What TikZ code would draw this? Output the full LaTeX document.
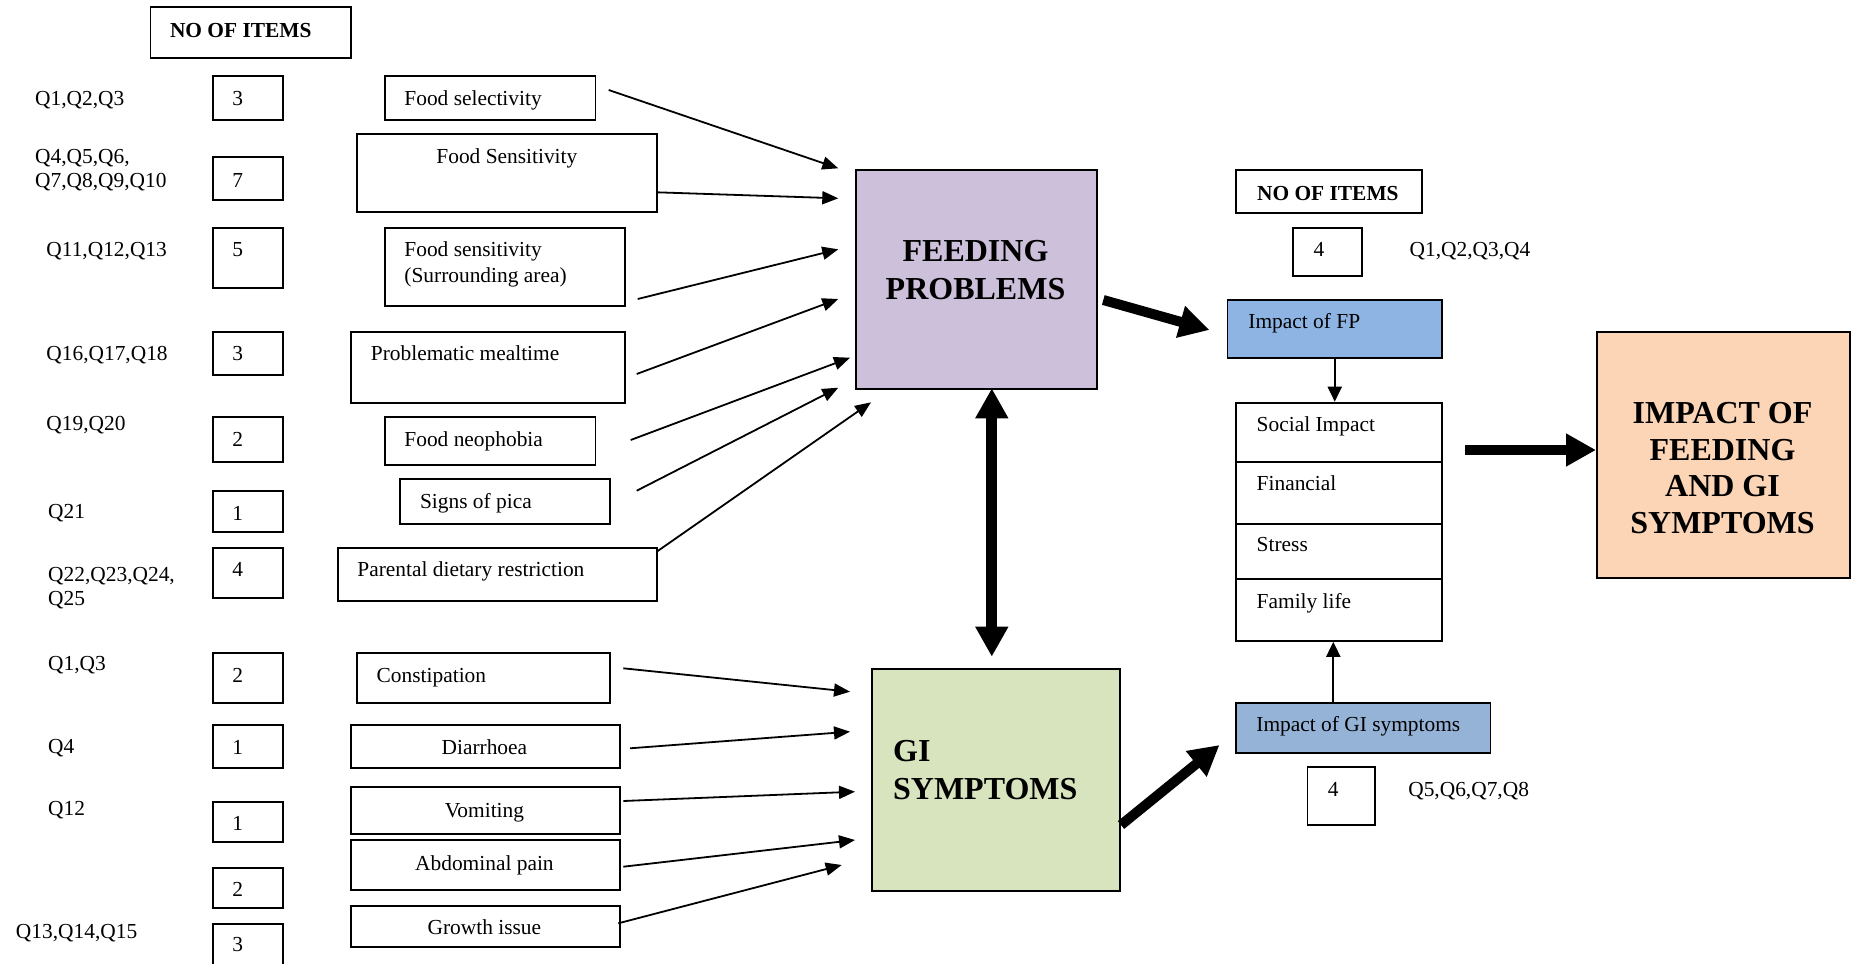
\documentclass[tikz,border=0pt]{standalone}
\usepackage{fontspec}
\setmainfont{Liberation Serif}
\usetikzlibrary{arrows.meta}
\definecolor{fpfill}{RGB}{204,192,218}
\definecolor{gifill}{RGB}{215,228,189}
\definecolor{outfill}{RGB}{251,213,181}
\definecolor{impfpfill}{RGB}{142,180,227}
\definecolor{impgifill}{RGB}{149,179,215}
\begin{document}
\begin{tikzpicture}[x=0.5pt,y=-0.5pt,
  bx/.style={draw, line width=0.9pt, inner sep=0pt, anchor=north west},
  wh/.style 2 args={minimum width={#1*0.5pt}, minimum height={#2*0.5pt}},
  txt/.style={inner sep=0pt, anchor=base west, font=\fontsize{10.7pt}{12.2pt}\selectfont},
  ctxt/.style={txt, anchor=base},
  hdr/.style={txt, font=\fontsize{10.7pt}{12.2pt}\selectfont\bfseries},
  title/.style={inner sep=0pt, font=\fontsize{16pt}{19pt}\selectfont\bfseries},
  thinarrow/.style={-{Triangle[length=8pt,width=6.5pt]}, line width=0.9pt},
  smallarrow/.style={-{Triangle[length=7.5pt,width=7pt]}, line width=1pt},
  bigarrow/.style={-{Triangle[length=15pt,width=15.5pt]}, line width=5pt},
  dblarrow/.style={{Triangle[length=15pt,width=15.5pt]}-{Triangle[length=15pt,width=15.5pt]}, line width=5.5pt}
]
\useasboundingbox (0,0) rectangle (1854,964);

% ---------- left header and item counts ----------
\node[bx, wh={200.8}{51.3}] (hdrL) at (149.6,6) {};
\node[hdr] (hdrLt) at (169.6,37.3) {NO OF ITEMS};

\node[bx, wh={70}{44.3}] (c1) at (212,75) {};
\node[txt] (c1t) at (232,105.3) {3};
\node[bx, wh={70}{43}] (c2) at (212,156) {};
\node[txt] (c2t) at (232,187.3) {7};
\node[bx, wh={70}{59.7}] (c3) at (212,227) {};
\node[txt] (c3t) at (232,256.7) {5};
\node[bx, wh={70}{43.3}] (c4) at (212,331) {};
\node[txt] (c4t) at (232,360.7) {3};
\node[bx, wh={70}{45}] (c5) at (212,416.3) {};
\node[txt] (c5t) at (232,446) {2};
\node[bx, wh={70}{40.4}] (c6) at (212,490.3) {};
\node[txt] (c6t) at (232,520.7) {1};
\node[bx, wh={70}{50}] (c7) at (212,546.7) {};
\node[txt] (c7t) at (232,576.7) {4};
\node[bx, wh={70}{50}] (c8) at (212,651.7) {};
\node[txt] (c8t) at (232,682.3) {2};
\node[bx, wh={70}{42.4}] (c9) at (212,724.3) {};
\node[txt] (c9t) at (232,754.3) {1};
\node[bx, wh={70}{40}] (c10) at (212,800.7) {};
\node[txt] (c10t) at (232,830.7) {1};
\node[bx, wh={70}{40}] (c11) at (212,866.7) {};
\node[txt] (c11t) at (232,896.7) {2};
\node[bx, wh={70}{45}] (c12) at (212,923.3) {};
\node[txt] (c12t) at (232,951.7) {3};

% ---------- question numbers ----------
\node[txt] (q1) at (34.8,105.3) {Q1,Q2,Q3};
\node[txt] (q2a) at (34.8,163.3) {Q4,Q5,Q6,};
\node[txt] (q2b) at (34.8,187.3) {Q7,Q8,Q9,Q10};
\node[txt] (q3) at (46,256.7) {Q11,Q12,Q13};
\node[txt] (q4) at (46,360.7) {Q16,Q17,Q18};
\node[txt] (q5) at (46,430.7) {Q19,Q20};
\node[txt] (q6) at (47.8,518.7) {Q21};
\node[txt] (q7a) at (47.8,581.7) {Q22,Q23,Q24,};
\node[txt] (q7b) at (47.8,605.7) {Q25};
\node[txt] (q8) at (47.8,670.7) {Q1,Q3};
\node[txt] (q9) at (47.8,753.3) {Q4};
\node[txt] (q10) at (47.8,815) {Q12};
\node[txt] (q11) at (15.6,938.3) {Q13,Q14,Q15};

% ---------- feeding problem items ----------
\node[bx, wh={210.6}{44.3}] (fsel) at (384,75) {};
\node[txt] (fselt) at (404,105.3) {Food selectivity};
\node[bx, wh={300.2}{77.7}] (fsens) at (355.8,133.3) {};
\node[txt] (fsenst) at (436,163.3) {Food Sensitivity};
\node[bx, wh={240}{78}] (fsur) at (384,227) {};
\node[txt] (fsurt1) at (404,256.7) {Food sensitivity};
\node[txt] (fsurt2) at (404,282.7) {(Surrounding area)};
\node[bx, wh={274}{71}] (pmeal) at (350,331) {};
\node[txt] (pmealt) at (370.5,360.7) {Problematic mealtime};
\node[bx, wh={210.6}{48}] (neo) at (384,416.3) {};
\node[txt] (neot) at (404,446) {Food neophobia};
\node[bx, wh={210.7}{45}] (pica) at (398.7,478) {};
\node[txt] (picat) at (419.6,508.3) {Signs of pica};
\node[bx, wh={319}{53.6}] (pdiet) at (337,546.7) {};
\node[txt] (pdiett) at (357,576.7) {Parental dietary restriction};

% ---------- GI items ----------
\node[bx, wh={253.6}{50}] (const) at (355.8,651.7) {};
\node[txt] (constt) at (376.3,682.3) {Constipation};
\node[bx, wh={268.8}{42.4}] (diar) at (350,724.3) {};
\node[ctxt] (diart) at (484.4,754.3) {Diarrhoea};
\node[bx, wh={268.8}{47}] (vom) at (350,785.7) {};
\node[ctxt] (vomt) at (484.4,817.3) {Vomiting};
\node[bx, wh={268.8}{50}] (abd) at (350,839.3) {};
\node[ctxt] (abdt) at (484.4,870) {Abdominal pain};
\node[bx, wh={268.8}{41}] (grow) at (350,905) {};
\node[ctxt] (growt) at (484.4,934) {Growth issue};

% ---------- central boxes ----------
\node[bx, fill=fpfill, wh={241}{218.7}] (fp) at (855,169) {};
\node[title, align=center] (fpt) at (975.5,270.3) {FEEDING\\PROBLEMS};
\node[bx, fill=gifill, wh={248}{221.7}] (gi) at (871,668.3) {};
\node[title, align=left, anchor=west] (git) at (892.7,769.9) {GI\\SYMPTOMS};

% ---------- impact side ----------
\node[bx, wh={185.7}{42.7}] (hdrR) at (1235,169) {};
\node[hdr] (hdrRt) at (1256.7,200) {NO OF ITEMS};
\node[bx, wh={68.7}{48.3}] (n4a) at (1292.3,226.7) {};
\node[txt] (n4at) at (1313.3,256.7) {4};
\node[txt] (qfp) at (1409.3,256.7) {Q1,Q2,Q3,Q4};

\node[bx, fill=impfpfill, wh={214.7}{58.3}] (impfp) at (1226.5,299) {};
\node[txt] (impfpt) at (1248,328.3) {Impact of FP};

\node[bx, wh={206.5}{59.3}] (s1) at (1234.7,401.7) {};
\node[txt] (s1t) at (1256.3,431.7) {Social Impact};
\node[bx, wh={206.5}{61.7}] (s2) at (1234.7,461) {};
\node[txt] (s2t) at (1256.3,490.7) {Financial};
\node[bx, wh={206.5}{55.6}] (s3) at (1234.7,522.7) {};
\node[txt] (s3t) at (1256.3,551.7) {Stress};
\node[bx, wh={206.5}{61.7}] (s4) at (1234.7,578.3) {};
\node[txt] (s4t) at (1256.3,608.3) {Family life};

\node[bx, fill=impgifill, wh={254.6}{50}] (impgi) at (1235,701.7) {};
\node[txt] (impgit) at (1256,731.7) {Impact of GI symptoms};
\node[bx, wh={67.9}{58}] (n4b) at (1306.5,766) {};
\node[txt] (n4bt) at (1327.5,796.7) {4};
\node[txt] (qgi) at (1407.9,796.7) {Q5,Q6,Q7,Q8};

\node[bx, fill=outfill, wh={253}{246.3}] (out) at (1596,331) {};
\node[title, align=center, font=\fontsize{16pt}{18.3pt}\selectfont\bfseries] (outt) at (1722.5,468.1) {IMPACT OF\\FEEDING\\AND GI\\SYMPTOMS};

% ---------- connector ends ----------
\coordinate (a1s) at (608.7,90);    \coordinate (a1e) at (838.3,168.3);
\coordinate (a2s) at (656.7,192.3); \coordinate (a2e) at (838.3,198.3);
\coordinate (a3s) at (637.7,299);   \coordinate (a3e) at (838.3,249.3);
\coordinate (a4s) at (636.7,374);   \coordinate (a4e) at (838.3,299);
\coordinate (a5s) at (630.7,440);   \coordinate (a5e) at (850,357.7);
\coordinate (a6s) at (636.7,490.7); \coordinate (a6e) at (838.3,387.7);
\coordinate (a7s) at (656.7,551.7); \coordinate (a7e) at (871,402.3);

\coordinate (b1s) at (623.3,668.3); \coordinate (b1e) at (850,691.7);
\coordinate (b2s) at (630,748.3);   \coordinate (b2e) at (850,731.7);
\coordinate (b3s) at (623.3,801);   \coordinate (b3e) at (855,791.7);
\coordinate (b4s) at (623.3,866.7); \coordinate (b4e) at (855,840);
\coordinate (b5s) at (618.3,923.3); \coordinate (b5e) at (841.7,865);

\coordinate (fpout) at (1103.3,300);  \coordinate (fpin) at (1209.4,330);
\coordinate (giout) at (1121,825);    \coordinate (giin) at (1219.5,745);
\coordinate (stout) at (1465,450);    \coordinate (stin) at (1596,450);
\coordinate (dtop) at (991.8,388.3);  \coordinate (dbot) at (991.8,656.7);
\coordinate (giup) at (1333.3,701.7);

% ---------- connectors ----------
\draw[thinarrow] (a1s) -- (a1e);
\draw[thinarrow] (a2s) -- (a2e);
\draw[thinarrow] (a3s) -- (a3e);
\draw[thinarrow] (a4s) -- (a4e);
\draw[thinarrow] (a5s) -- (a5e);
\draw[thinarrow] (a6s) -- (a6e);
\draw[thinarrow] (a7s) -- (a7e);

\draw[thinarrow] (b1s) -- (b1e);
\draw[thinarrow] (b2s) -- (b2e);
\draw[thinarrow] (b3s) -- (b3e);
\draw[thinarrow] (b4s) -- (b4e);
\draw[thinarrow] (b5s) -- (b5e);

\draw[dblarrow] (dtop) -- (dbot);
\draw[bigarrow] (fpout) -- (fpin);
\draw[bigarrow] (giout) -- (giin);
\draw[bigarrow] (stout) -- (stin);

\draw[smallarrow] (impfp.south) -- (impfp.south |- s1.north);
\draw[smallarrow] (giup) -- (giup |- s4.south);
\end{tikzpicture}
\end{document}
